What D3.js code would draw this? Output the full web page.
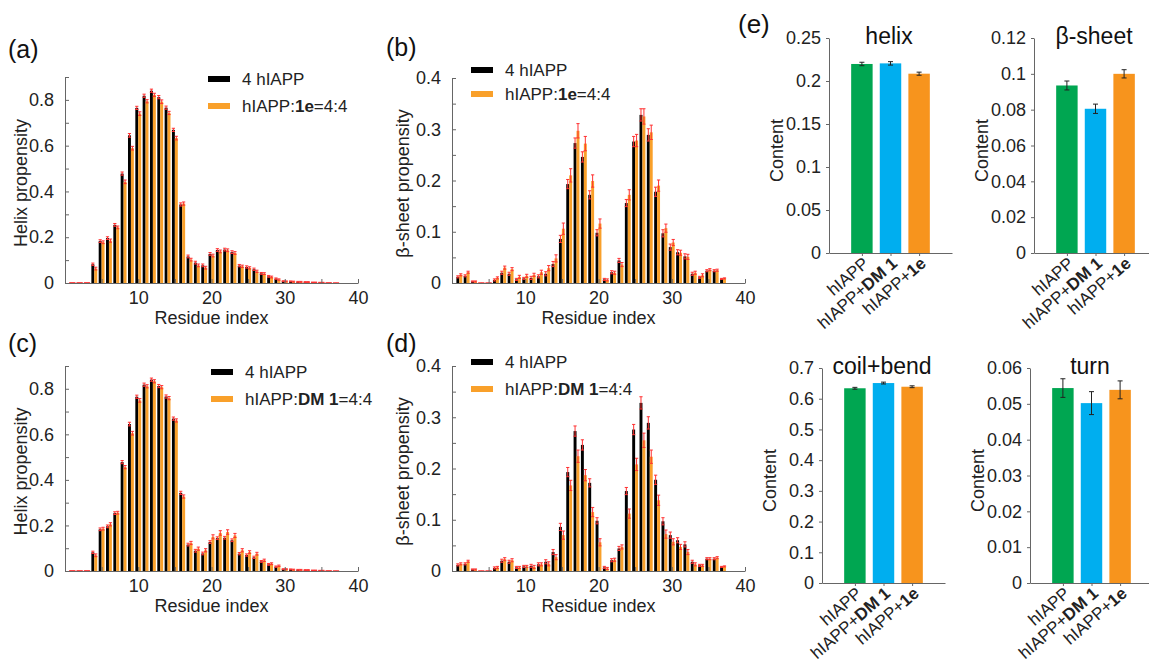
<!DOCTYPE html>
<html lang="en">
<head>
<meta charset="UTF-8">
<title>hIAPP secondary structure propensity</title>
<script src="https://d3js.org/d3.v7.min.js"></script>
<style>
  body { margin: 0; background: #fff; }
  svg { display: block; font-family: "Liberation Sans", Arial, sans-serif; }
  .axis path, .axis line { stroke: #666; }
  .axis text { fill: #222; font-size: 18px; font-family: "Liberation Sans", Arial, sans-serif; }
</style>
</head>
<body>
<svg id="fig" width="1149" height="664"></svg>
<script>
// residue index of hIAPP
const residues = [1,2,3,4,5,6,7,8,9,10,11,12,13,14,15,16,17,18,19,20,21,22,23,24,25,26,27,28,29,30,31,32,33,34,35,36,37];

// helix propensity, panels (a) and (c)
const helixCtrl = [0,0,0,0.082,0.183,0.196,0.254,0.478,0.645,0.765,0.818,0.84,0.812,0.766,0.669,0.343,0.116,0.089,0.077,0.127,0.144,0.146,0.135,0.076,0.07,0.06,0.042,0.029,0.019,0.008,0.007,0.005,0.004,0.003,0.002,0,0];
const helix1e   = [0,0,0,0.063,0.178,0.185,0.243,0.442,0.589,0.74,0.794,0.822,0.792,0.743,0.633,0.347,0.102,0.077,0.067,0.12,0.138,0.143,0.131,0.073,0.066,0.051,0.041,0.026,0.015,0.007,0.006,0.005,0.004,0.003,0.002,0,0];
const helixDM1  = [0,0,0,0.069,0.186,0.205,0.256,0.456,0.605,0.749,0.811,0.833,0.807,0.759,0.661,0.327,0.123,0.098,0.091,0.15,0.167,0.171,0.156,0.091,0.083,0.076,0.047,0.032,0.023,0.008,0.006,0.005,0.004,0.003,0.002,0,0];
const helixCtrlErr = [0.001,0.001,0.001,0.005,0.006,0.006,0.006,0.007,0.008,0.007,0.007,0.007,0.007,0.007,0.007,0.007,0.006,0.006,0.006,0.006,0.006,0.006,0.006,0.005,0.005,0.005,0.004,0.004,0.003,0.002,0.002,0.002,0.002,0.001,0.001,0.001,0];
const helix1eErr   = [0.001,0.001,0.001,0.006,0.006,0.007,0.006,0.008,0.008,0.008,0.007,0.007,0.008,0.007,0.008,0.007,0.006,0.006,0.006,0.006,0.006,0.006,0.006,0.005,0.005,0.005,0.004,0.004,0.003,0.002,0.002,0.002,0.002,0.001,0.001,0.001,0];
const helixDM1Err  = [0.001,0.001,0.001,0.006,0.006,0.007,0.006,0.007,0.008,0.008,0.007,0.007,0.007,0.007,0.007,0.007,0.007,0.007,0.007,0.009,0.01,0.01,0.009,0.007,0.006,0.006,0.005,0.004,0.003,0.002,0.002,0.002,0.002,0.001,0.001,0.001,0];

// beta-sheet propensity, panels (b) and (d)
const sheetCtrl = [0.012,0.014,0.003,0,0,0.006,0.02,0.018,0.007,0.009,0.01,0.013,0.018,0.037,0.086,0.193,0.273,0.246,0.172,0.098,0.007,0.021,0.044,0.156,0.276,0.328,0.289,0.178,0.097,0.07,0.06,0.052,0.018,0.011,0.024,0.024,0.008];
const sheet1e   = [0.016,0.021,0.003,0,0,0.01,0.03,0.027,0.012,0.014,0.016,0.021,0.029,0.048,0.106,0.21,0.297,0.272,0.199,0.116,0.006,0.02,0.036,0.172,0.278,0.325,0.294,0.19,0.107,0.079,0.059,0.051,0.02,0.015,0.026,0.025,0.009];
const sheetDM1  = [0.014,0.019,0.003,0,0,0.007,0.023,0.021,0.007,0.009,0.008,0.013,0.014,0.027,0.07,0.167,0.224,0.187,0.115,0.056,0.005,0.022,0.047,0.112,0.208,0.255,0.223,0.138,0.072,0.057,0.047,0.037,0.013,0.011,0.024,0.026,0.009];
const sheetCtrlErr = [0.002,0.002,0.001,0,0,0.002,0.003,0.003,0.002,0.002,0.003,0.003,0.004,0.005,0.007,0.009,0.01,0.01,0.008,0.006,0.002,0.003,0.004,0.007,0.01,0.012,0.012,0.009,0.007,0.006,0.005,0.005,0.003,0.002,0.002,0.002,0.001];
const sheet1eErr   = [0.002,0.002,0.001,0,0,0.002,0.003,0.003,0.003,0.003,0.003,0.004,0.005,0.007,0.011,0.013,0.014,0.014,0.012,0.009,0.002,0.003,0.004,0.01,0.012,0.015,0.014,0.011,0.008,0.006,0.005,0.005,0.003,0.003,0.002,0.002,0.001];
const sheetDM1Err  = [0.002,0.002,0.001,0,0,0.002,0.003,0.003,0.002,0.002,0.003,0.003,0.004,0.005,0.008,0.01,0.012,0.011,0.009,0.007,0.002,0.003,0.004,0.009,0.012,0.014,0.013,0.01,0.008,0.006,0.005,0.005,0.003,0.002,0.002,0.002,0.001];

// panel (e): overall content
const systems = [
  [{ t: "hIAPP" }],
  [{ t: "hIAPP+" }, { t: "DM 1", b: true }],
  [{ t: "hIAPP+" }, { t: "1e", b: true }]
];
const helixContent = [0.2198, 0.2205, 0.2085];
const helixContentErr = [0.002, 0.002, 0.0018];
const sheetContent = [0.0935, 0.0805, 0.1];
const sheetContentErr = [0.0025, 0.0026, 0.0023];
const coilContent = [0.634, 0.651, 0.639];
const coilContentErr = [0.003, 0.003, 0.003];
const turnContent = [0.0544, 0.0502, 0.0539];
const turnContentErr = [0.0026, 0.0032, 0.0025];

const BLACK = "#000";
const ORANGE = "#f9a02a";
const RED = "#ff3030";
const systemColors = ["#00a651", "#00aeef", "#f7941d"];

const svg = d3.select("#fig");
const fmt = d3.format("~g");

// text with bold pieces
function richText(sel, parts) {
  parts.forEach(p => {
    sel.append("tspan").attr("font-weight", p.b ? "bold" : null).text(p.t);
  });
  return sel;
}

function residuePanel(cfg) {
  const x = d3.scaleLinear().domain([0, 40]).range([cfg.left, cfg.right]);
  const y = d3.scaleLinear().domain([0, cfg.yMax]).range([cfg.bottom, cfg.top]);
  const g = svg.append("g");
  const bw = x(0.4) - x(0);
  const offsets = [-0.2, 0.2];

  cfg.series.forEach((s, k) => {
    const rows = residues.map((r, i) => ({ r: r, v: s.values[i], e: s.err[i] }));
    g.append("g").selectAll("rect").data(rows).join("rect")
      .attr("x", d => x(d.r + offsets[k]) - bw / 2)
      .attr("y", d => y(d.v))
      .attr("width", bw)
      .attr("height", d => y(0) - y(d.v))
      .attr("fill", s.color);
  });

  // error bars on top of both series
  cfg.series.forEach((s, k) => {
    const rows = residues.map((r, i) => ({ r: r, v: s.values[i], e: s.err[i] }));
    const eg = g.append("g").attr("stroke", RED).attr("stroke-width", 1).attr("fill", "none");
    eg.selectAll("path").data(rows).join("path")
      .attr("d", d => {
        const cx = x(d.r + offsets[k]);
        const lo = y(Math.max(0, d.v - d.e)), hi = y(d.v + d.e);
        return `M${cx},${lo}V${hi}M${cx - 1.6},${hi}H${cx + 1.6}M${cx - 1.6},${lo}H${cx + 1.6}`;
      });
  });

  g.append("g").attr("class", "axis")
    .attr("transform", `translate(0,${cfg.bottom})`)
    .call(d3.axisBottom(x).tickValues([5, 10, 15, 20, 25, 30, 35, 40])
      .tickSizeInner(-4).tickSizeOuter(0).tickPadding(8)
      .tickFormat(d => d % 10 === 0 ? d : ""));

  g.append("g").attr("class", "axis")
    .attr("transform", `translate(${cfg.left},0)`)
    .call(d3.axisLeft(y).tickValues(cfg.yTicks)
      .tickSizeInner(-4).tickSizeOuter(0).tickPadding(11)
      .tickFormat(d => cfg.yLabels.includes(d) ? fmt(d) : ""));

  g.append("text")
    .attr("x", (cfg.left + cfg.right) / 2)
    .attr("y", cfg.bottom + 41)
    .attr("text-anchor", "middle").attr("font-size", 18).attr("fill", "#222")
    .text("Residue index");

  g.append("text")
    .attr("transform", `translate(${cfg.yTitleX},${(cfg.top + cfg.bottom) / 2 + 3}) rotate(-90)`)
    .attr("text-anchor", "middle").attr("font-size", 18).attr("fill", "#222")
    .text(cfg.yTitle);

  // legend
  cfg.series.forEach((s, k) => {
    const ly = cfg.legend.y + k * cfg.legend.dy;
    g.append("rect")
      .attr("x", cfg.legend.x).attr("y", ly - 3)
      .attr("width", cfg.legend.w).attr("height", 6)
      .attr("fill", s.color);
    richText(g.append("text")
      .attr("x", cfg.legend.x + cfg.legend.w + 12).attr("y", ly + 6)
      .attr("font-size", 17).attr("fill", "#222"), s.label);
  });

  svg.append("text")
    .attr("x", cfg.tag.x).attr("y", cfg.tag.y)
    .attr("font-size", 25).attr("fill", "#111")
    .text(cfg.tag.t);
}

const helixTicks = [0, 0.1, 0.2, 0.3, 0.4, 0.5, 0.6, 0.7, 0.8, 0.9];
const helixLabels = [0, 0.2, 0.4, 0.6, 0.8];
const sheetTicks = [0, 0.05, 0.1, 0.15, 0.2, 0.25, 0.3, 0.35, 0.4];
const sheetLabels = [0, 0.1, 0.2, 0.3, 0.4];

residuePanel({
  left: 65, right: 358, top: 77, bottom: 283, yMax: 0.9,
  yTicks: helixTicks, yLabels: helixLabels, yTitle: "Helix propensity", yTitleX: 27,
  legend: { x: 208, y: 79, dy: 27, w: 22 },
  tag: { t: "(a)", x: 8, y: 58 },
  series: [
    { values: helixCtrl, err: helixCtrlErr, color: BLACK, label: [{ t: "4 hIAPP" }] },
    { values: helix1e, err: helix1eErr, color: ORANGE, label: [{ t: "hIAPP:" }, { t: "1e", b: true }, { t: "=4:4" }] }
  ]
});

residuePanel({
  left: 452, right: 745, top: 78, bottom: 283, yMax: 0.4,
  yTicks: sheetTicks, yLabels: sheetLabels, yTitle: "β-sheet propensity", yTitleX: 409,
  legend: { x: 471, y: 70, dy: 24, w: 22 },
  tag: { t: "(b)", x: 386, y: 56 },
  series: [
    { values: sheetCtrl, err: sheetCtrlErr, color: BLACK, label: [{ t: "4 hIAPP" }] },
    { values: sheet1e, err: sheet1eErr, color: ORANGE, label: [{ t: "hIAPP:" }, { t: "1e", b: true }, { t: "=4:4" }] }
  ]
});

residuePanel({
  left: 65, right: 358, top: 366, bottom: 571, yMax: 0.9,
  yTicks: helixTicks, yLabels: helixLabels, yTitle: "Helix propensity", yTitleX: 27,
  legend: { x: 211, y: 372, dy: 27, w: 22 },
  tag: { t: "(c)", x: 8, y: 352 },
  series: [
    { values: helixCtrl, err: helixCtrlErr, color: BLACK, label: [{ t: "4 hIAPP" }] },
    { values: helixDM1, err: helixDM1Err, color: ORANGE, label: [{ t: "hIAPP:" }, { t: "DM 1", b: true }, { t: "=4:4" }] }
  ]
});

residuePanel({
  left: 452, right: 745, top: 366, bottom: 571, yMax: 0.4,
  yTicks: sheetTicks, yLabels: sheetLabels, yTitle: "β-sheet propensity", yTitleX: 409,
  legend: { x: 471, y: 362, dy: 27, w: 22 },
  tag: { t: "(d)", x: 386, y: 352 },
  series: [
    { values: sheetCtrl, err: sheetCtrlErr, color: BLACK, label: [{ t: "4 hIAPP" }] },
    { values: sheetDM1, err: sheetDM1Err, color: ORANGE, label: [{ t: "hIAPP:" }, { t: "DM 1", b: true }, { t: "=4:4" }] }
  ]
});

function contentPanel(cfg) {
  const x = d3.scaleLinear().domain([-0.15, 4.15]).range([cfg.left, cfg.left + 123]);
  const y = d3.scaleLinear().domain([0, cfg.yMax]).range([cfg.bottom, cfg.top]);
  const g = svg.append("g");
  const bw = x(0.75) - x(0);
  const rows = cfg.values.map((v, i) => ({ i: i + 1, v: v, e: cfg.err[i] }));

  g.append("g").selectAll("rect").data(rows).join("rect")
    .attr("x", d => x(d.i) - bw / 2)
    .attr("y", d => y(d.v))
    .attr("width", bw)
    .attr("height", d => y(0) - y(d.v))
    .attr("fill", (d, i) => systemColors[i]);

  g.append("g").attr("stroke", "#222").attr("stroke-width", 1).attr("fill", "none")
    .selectAll("path").data(rows).join("path")
    .attr("d", d => {
      const cx = x(d.i), lo = y(d.v - d.e), hi = y(d.v + d.e);
      return `M${cx},${lo}V${hi}M${cx - 2.5},${hi}H${cx + 2.5}M${cx - 2.5},${lo}H${cx + 2.5}`;
    });

  g.append("g").attr("class", "axis")
    .attr("transform", `translate(0,${cfg.bottom})`)
    .call(d3.axisBottom(x).tickValues([1, 2, 3]).tickSizeInner(3).tickSizeOuter(0).tickFormat(""));

  g.append("g").attr("class", "axis")
    .attr("transform", `translate(${cfg.left},0)`)
    .call(d3.axisLeft(y).tickValues(cfg.yTicks).tickSizeInner(3).tickSizeOuter(0).tickPadding(5)
      .tickFormat(fmt));

  g.append("g").selectAll("text").data(rows).join("text")
    .attr("transform", d => `translate(${x(d.i) + 8},${cfg.bottom + 12}) rotate(-41)`)
    .attr("text-anchor", "end").attr("font-size", 17).attr("fill", "#222")
    .each(function (d, i) { richText(d3.select(this), systems[i]); });

  g.append("text")
    .attr("x", cfg.left + 60).attr("y", cfg.top + 6)
    .attr("text-anchor", "middle").attr("font-size", 23).attr("fill", "#111")
    .text(cfg.title);

  g.append("text")
    .attr("transform", `translate(${cfg.left - 46},${(cfg.top + cfg.bottom) / 2 + 5}) rotate(-90)`)
    .attr("text-anchor", "middle").attr("font-size", 18).attr("fill", "#222")
    .text("Content");
}

contentPanel({ left: 829, top: 38, bottom: 253, yMax: 0.25, title: "helix",
  yTicks: [0, 0.05, 0.1, 0.15, 0.2, 0.25], values: helixContent, err: helixContentErr });
contentPanel({ left: 1034, top: 38, bottom: 253, yMax: 0.12, title: "β-sheet",
  yTicks: [0, 0.02, 0.04, 0.06, 0.08, 0.1, 0.12], values: sheetContent, err: sheetContentErr });
contentPanel({ left: 822, top: 368, bottom: 583, yMax: 0.7, title: "coil+bend",
  yTicks: [0, 0.1, 0.2, 0.3, 0.4, 0.5, 0.6, 0.7], values: coilContent, err: coilContentErr });
contentPanel({ left: 1030, top: 368, bottom: 583, yMax: 0.06, title: "turn",
  yTicks: [0, 0.01, 0.02, 0.03, 0.04, 0.05, 0.06], values: turnContent, err: turnContentErr });

svg.append("text").attr("x", 738).attr("y", 33)
  .attr("font-size", 26).attr("fill", "#111").text("(e)");
</script>
</body>
</html>
